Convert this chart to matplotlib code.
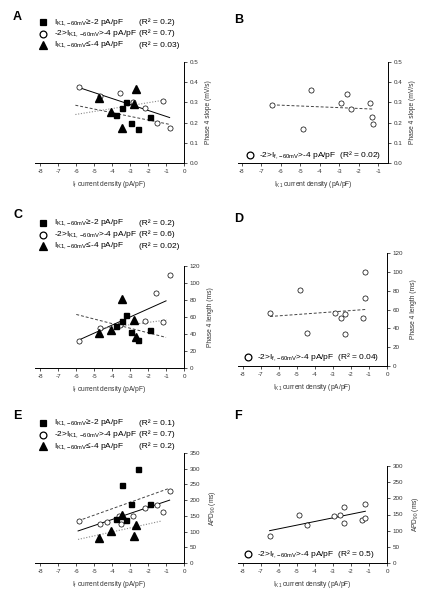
import numpy as np
import matplotlib.pyplot as plt

plt.rcParams['font.family'] = ['Liberation Sans', 'DejaVu Sans']
plt.rcParams['mathtext.fontset'] = 'custom'
plt.rcParams['mathtext.rm'] = 'Liberation Sans'
plt.rcParams['mathtext.it'] = 'Liberation Sans:italic'

# ---- data ----
# A: phase 4 slope vs I_f, grouped by I_K1
a_sq_x = [-3.25, -3.43, -3.8, -2.98, -1.92, -2.56]
a_sq_y = [0.302, 0.27, 0.236, 0.20, 0.23, 0.168]
a_ci_x = [-5.86, -4.7, -3.57, -2.85, -2.18, -1.19, -1.53, -0.8]
a_ci_y = [0.378, 0.33, 0.346, 0.30, 0.27, 0.305, 0.198, 0.174]
a_tr_x = [-4.75, -4.06, -3.45, -2.65, -2.78]
a_tr_y = [0.32, 0.253, 0.171, 0.365, 0.293]
a_fit_sq = ([-6.05, -0.85], [0.286, 0.192])
a_fit_ci = ([-5.9, -0.8], [0.375, 0.225])
a_fit_tr = ([-6.05, -1.2], [0.24, 0.31])
a_r2 = ['0.2', '0.7', '0.03']

# B: phase 4 slope vs I_K1 (-2 > I_f > -4)
b_x = [-6.45, -4.46, -4.84, -2.93, -2.62, -2.4, -1.44, -1.3, -1.28]
b_y = [0.289, 0.362, 0.167, 0.297, 0.341, 0.268, 0.297, 0.229, 0.195]
b_fit = ([-6.45, -1.25], [0.288, 0.267])
b_r2 = '0.02'

# C: phase 4 length vs I_f
c_sq_x = [-3.25, -3.43, -3.8, -2.98, -1.92, -2.56]
c_sq_y = [62, 55, 49, 42, 45, 33]
c_ci_x = [-5.83, -4.66, -3.58, -2.15, -1.54, -1.19, -0.8]
c_ci_y = [32, 47.5, 51, 55, 88, 54, 110]
c_tr_x = [-4.75, -4.06, -3.45, -2.78, -2.65]
c_tr_y = [41, 45, 81, 56, 36]
c_fit_sq = ([-6.0, -1.0], [63, 36])
c_fit_ci = ([-5.85, -1.0], [33, 79])
c_fit_tr = ([-4.8, -0.95], [46, 56.5])
c_r2 = ['0.2', '0.6', '0.02']

# D: phase 4 length vs I_K1
d_x = [-6.47, -4.84, -4.43, -2.9, -2.55, -2.3, -2.3, -1.35, -1.2, -1.2]
d_y = [56, 80.7, 35, 56, 51, 55, 34, 51, 100, 72]
d_fit = ([-6.47, -1.2], [52.6, 60])
d_r2 = '0.04'

# E: APD90 vs I_f
e_sq_x = [-3.25, -3.43, -3.8, -2.98, -1.92, -2.56]
e_sq_y = [136, 248, 140, 188, 187, 300]
e_ci_x = [-5.86, -4.66, -4.29, -3.53, -3.6, -2.84, -2.19, -1.5, -1.19, -0.8]
e_ci_y = [133, 125, 131, 125, 148, 149, 174, 183, 161, 229]
e_tr_x = [-4.75, -4.06, -3.45, -2.78, -2.65]
e_tr_y = [80, 101, 154, 85, 120]
e_fit_sq = ([-5.9, -0.85], [134, 237])
e_fit_ci = ([-5.9, -0.8], [102, 200])
e_fit_tr = ([-5.9, -1.3], [75, 133])
e_r2 = ['0.1', '0.7', '0.2']

# F: APD90 vs I_K1
f_x = [-6.5, -4.9, -4.45, -2.95, -2.6, -2.4, -2.4, -1.4, -1.2, -1.2]
f_y = [85, 150, 118, 145, 147, 172, 123, 133, 183, 140]
f_fit = ([-6.5, -1.2], [100, 160])
f_r2 = '0.5'

W, H = 430, 600
fig = plt.figure(figsize=(W / 100, H / 100), dpi=100)

TICK_FS = 4.5
LAB_FS = 4.8
LEG_FS = 6.0
SUB_K = r'$_{\mathrm{K1,\,{-}60mV}}$'
SUB_F = r'$_{\mathrm{f,\,{-}60mV}}$'

def panel(l, r, t, b, xlim, ylim, yticks, xticks, xlabel, ylabel, yfmt):
    ax = fig.add_axes([l / W, 1 - b / H, (r - l) / W, (b - t) / H])
    ax.set_xlim(xlim)
    ax.set_ylim(ylim)
    ax.spines['left'].set_visible(False)
    ax.spines['top'].set_visible(False)
    for s in ('bottom', 'right'):
        ax.spines[s].set_linewidth(0.7)
    ax.yaxis.tick_right()
    ax.yaxis.set_label_position('right')
    ax.set_xticks(xticks)
    ax.set_xticklabels([str(v) for v in xticks])
    ax.set_yticks(yticks)
    ax.set_yticklabels([yfmt % v for v in yticks])
    ax.tick_params(direction='out', length=2.5, width=0.6, labelsize=TICK_FS,
                   pad=1.5, colors='#333333')
    ax.set_xlabel(xlabel, fontsize=LAB_FS, labelpad=4, color='#333333')
    ax.set_ylabel(ylabel, fontsize=LAB_FS, labelpad=5, color='#333333')
    return ax

def plot_groups(ax, sq, ci, tr, fsq, fci, ftr):
    ax.plot(*fsq, ls=(0, (3, 2)), color='#444444', lw=0.7)
    ax.plot(*fci, ls='-', color='black', lw=0.7)
    ax.plot(*ftr, ls=(0, (1, 1.5)), color='#888888', lw=0.8)
    ax.plot(*ci, 'o', ms=3.7, mfc='white', mec='black', mew=0.5, ls='none')
    ax.plot(*sq, 's', ms=3.6, color='black', ls='none')
    ax.plot(*tr, '^', ms=5.2, color='black', ls='none')

def fig_marker(x, y, m, ms, fc):
    fig.lines.append(plt.Line2D([x / W], [1 - y / H], marker=m, ms=ms,
                                mfc=fc, mec='black', mew=0.9, ls='none',
                                transform=fig.transFigure))

def legend3(x0, y0, r2):
    rows = [('s', 4.6, 'black', 'I' + SUB_K + '≥-2 pA/pF'),
            ('o', 4.9, 'white', '-2>I' + SUB_K + '>-4 pA/pF'),
            ('^', 6.3, 'black', 'I' + SUB_K + '≤-4 pA/pF')]
    for i, (m, ms, fc, txt) in enumerate(rows):
        y = y0 + i * 11.5
        fig_marker(x0, y, m, ms, fc)
        fig.text((x0 + 11) / W, 1 - y / H, txt, fontsize=LEG_FS, va='center')
        fig.text(139 / W, 1 - y / H, '(R² = %s)' % r2[i], fontsize=LEG_FS, va='center')

def legend1(x0, y0, r2):
    fig_marker(x0, y0, 'o', 4.9, 'white')
    fig.text((x0 + 9) / W, 1 - y0 / H,
             '-2>I' + SUB_F + '>-4 pA/pF  (R² = %s)' % r2,
             fontsize=LEG_FS, va='center')

xt8 = list(range(-8, 1))
xt7 = list(range(-8, 0))
lab_f = r'I$_{\mathrm{f}}$ current density (pA/pF)'
lab_k = r'I$_{\mathrm{K1}}$ current density (pA/pF)'
slope_t = [0.0, 0.1, 0.2, 0.3, 0.4, 0.5]

# A
ax = panel(35, 184, 62, 163, (-8.3, 0), (0, 0.5), slope_t, xt8, lab_f,
           'Phase 4 slope (mV/s)', '%.1f')
plot_groups(ax, (a_sq_x, a_sq_y), (a_ci_x, a_ci_y), (a_tr_x, a_tr_y),
            a_fit_sq, a_fit_ci, a_fit_tr)
legend3(43, 22, a_r2)
fig.text(13 / W, 1 - 17 / H, 'A', fontsize=9, fontweight='bold', va='center')

# B
ax = panel(238, 388, 62, 163, (-8.2, -0.5), (0, 0.5), slope_t, xt7, lab_k,
           'Phase 4 slope (mV/s)', '%.1f')
ax.plot(*b_fit, ls=(0, (3, 2)), color='#444444', lw=0.7)
ax.plot(b_x, b_y, 'o', ms=3.7, mfc='white', mec='black', mew=0.5, ls='none')
legend1(250, 155, b_r2)
fig.text(234 / W, 1 - 20 / H, 'B', fontsize=9, fontweight='bold', va='center')

# C
len_t = list(range(0, 121, 20))
ax = panel(35, 184, 266, 368, (-8.3, 0), (0, 120), len_t, xt8, lab_f,
           'Phase 4 length (ms)', '%d')
plot_groups(ax, (c_sq_x, c_sq_y), (c_ci_x, c_ci_y), (c_tr_x, c_tr_y),
            c_fit_sq, c_fit_ci, c_fit_tr)
legend3(43, 223, c_r2)
fig.text(13 / W, 1 - 215 / H, 'C', fontsize=9, fontweight='bold', va='center')

# D
ax = panel(238, 387, 253, 366, (-8.25, 0), (0, 120), len_t, xt8, lab_k,
           'Phase 4 length (ms)', '%d')
ax.plot(*d_fit, ls=(0, (3, 2)), color='#444444', lw=0.7)
ax.plot(d_x, d_y, 'o', ms=3.7, mfc='white', mec='black', mew=0.5, ls='none')
legend1(248, 357, d_r2)
fig.text(234 / W, 1 - 219 / H, 'D', fontsize=9, fontweight='bold', va='center')

# E
ax = panel(35, 184, 453, 563, (-8.3, 0), (0, 350), list(range(0, 351, 50)), xt8,
           lab_f, r'APD$_{\mathrm{90}}$ (ms)', '%d')
plot_groups(ax, (e_sq_x, e_sq_y), (e_ci_x, e_ci_y), (e_tr_x, e_tr_y),
            e_fit_sq, e_fit_ci, e_fit_tr)
legend3(43, 423, e_r2)
fig.text(13 / W, 1 - 416 / H, 'E', fontsize=9, fontweight='bold', va='center')

# F
ax = panel(238, 387, 466, 563, (-8.25, 0), (0, 300), list(range(0, 301, 50)), xt8,
           lab_k, r'APD$_{\mathrm{90}}$ (ms)', '%d')
ax.plot(*f_fit, ls='-', color='black', lw=0.7)
ax.plot(f_x, f_y, 'o', ms=3.7, mfc='white', mec='black', mew=0.5, ls='none')
legend1(248, 554, f_r2)
fig.text(234 / W, 1 - 416 / H, 'F', fontsize=9, fontweight='bold', va='center')

fig.savefig('out.png', dpi=100)
